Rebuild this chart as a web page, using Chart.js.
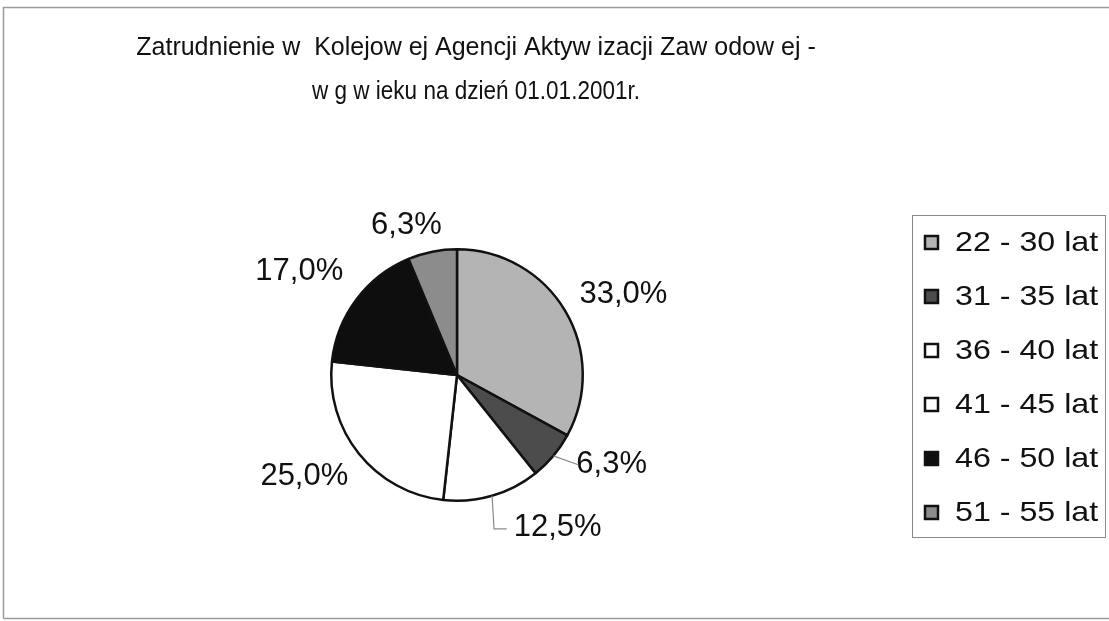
<!DOCTYPE html>
<html>
<head>
<meta charset="utf-8">
<script src="https://cdn.jsdelivr.net/npm/chart.js@4.4.0/dist/chart.umd.min.js"></script>
<style>
html,body{margin:0;padding:0;background:#fff;}
#wrap{position:relative;width:1109px;height:621px;}
canvas{display:block;}
</style>
</head>
<body>
<div id="wrap"><canvas id="c" width="1109" height="621"></canvas></div>
<script>
const titleLines = ["Zatrudnienie w  Kolejow ej Agencji Aktyw izacji Zaw odow ej -", "w g w ieku na dzień 01.01.2001r."];
const categories = ["22 - 30 lat", "31 - 35 lat", "36 - 40 lat", "41 - 45 lat", "46 - 50 lat", "51 - 55 lat"];
const values = [33.0, 6.3, 12.5, 25.0, 17.0, 6.3];
const valueLabels = ["33,0%", "6,3%", "12,5%", "25,0%", "17,0%", "6,3%"];
const colors = ["#b4b4b4", "#4c4c4c", "#ffffff", "#ffffff", "#0e0e0e", "#8c8c8c"];

const FONT = '"Liberation Sans", Arial, sans-serif';

const decor = {
  id: 'decor',
  afterDraw(chart) {
    const ctx = chart.ctx;
    const opts = chart.options.plugins.decor;
    ctx.save();
    ctx.strokeStyle = '#9a9a9a';
    ctx.lineWidth = 1.5;
    ctx.beginPath();
    ctx.moveTo(3.5, 618.5); ctx.lineTo(3.5, 7.5); ctx.lineTo(1109, 7.5);
    ctx.moveTo(3.5, 618.5); ctx.lineTo(1109, 618.5);
    ctx.stroke();
    ctx.fillStyle = '#111';
    ctx.textAlign = 'center';
    ctx.textBaseline = 'middle';
    ctx.font = '25px ' + FONT;
    ctx.fillText(titleLines[0], 476, 48);
    ctx.fillText(titleLines[1], 476, 92, 328);

    const meta = chart.getDatasetMeta(0);
    ctx.font = opts.labelFont + 'px ' + FONT;
    ctx.textBaseline = 'middle';
    meta.data.forEach((arc, i) => {
      const p = arc.getProps(['x','y','startAngle','endAngle','outerRadius']);
      const mid = (p.startAngle + p.endAngle) / 2;
      const cos = Math.cos(mid), sin = Math.sin(mid);
      const r = p.outerRadius + opts.gap;
      const off = opts.offsets[i];
      const x = p.x + cos * r + off[0];
      const y = p.y + sin * r + off[1];
      const w = ctx.measureText(valueLabels[i]).width;
      ctx.textAlign = 'center';
      ctx.fillStyle = '#111';
      ctx.fillText(valueLabels[i], x, y);
      if (opts.leaders[i]) {
        const ex = p.x + cos * p.outerRadius, ey = p.y + sin * p.outerRadius;
        ctx.strokeStyle = '#8a8a8a';
        ctx.lineWidth = 1.2;
        ctx.beginPath();
        ctx.moveTo(ex, ey);
        if (opts.leaders[i] === 'elbow') {
          ctx.lineTo(ex + 2, y + 2);
          ctx.lineTo(x - w / 2 - 7, y + 2);
        } else {
          ctx.lineTo(x - w / 2 + 2, y);
        }
        ctx.stroke();
      }
    });

    const L = opts.legend;
    ctx.strokeStyle = '#888';
    ctx.lineWidth = 1;
    ctx.strokeRect(L.x + 0.5, L.y + 0.5, L.w, L.h);
    ctx.font = L.font + 'px ' + FONT;
    ctx.textAlign = 'left';
    categories.forEach((c, i) => {
      const cy = L.y + L.first + i * L.step;
      ctx.fillStyle = colors[i];
      ctx.fillRect(L.x + 13, cy - 6, 13, 13);
      ctx.strokeStyle = '#111';
      ctx.lineWidth = 2.5;
      ctx.strokeRect(L.x + 13, cy - 6, 13, 13);
      ctx.fillStyle = '#111';
      ctx.save();
      ctx.translate(L.x + 43, cy + 1);
      ctx.scale(L.stretch, 1);
      ctx.fillText(c, 0, 0);
      ctx.restore();
    });
    ctx.restore();
  }
};

new Chart(document.getElementById('c'), {
  type: 'pie',
  data: {
    labels: categories,
    datasets: [{
      data: values,
      backgroundColor: colors,
      borderColor: '#111',
      borderWidth: 2.5
    }]
  },
  options: {
    responsive: false,
    animation: false,
    layout: { padding: { left: 330, right: 525, top: 248, bottom: 119 } },
    plugins: {
      legend: { display: false },
      title: { display: false },
      tooltip: { enabled: false },
      decor: {
        labelFont: 31,
        gap: 20,
        offsets: [[41, -6], [43, -4], [60, 12], [-39, 10], [-41, -16], [-22, -7]],
        leaders: [null, 'straight', 'elbow', null, null, null],
        legend: { x: 912, y: 215, w: 193, h: 322, first: 27, step: 54, font: 28, stretch: 1.15 }
      }
    }
  },
  plugins: [decor]
});
</script>
</body>
</html>
